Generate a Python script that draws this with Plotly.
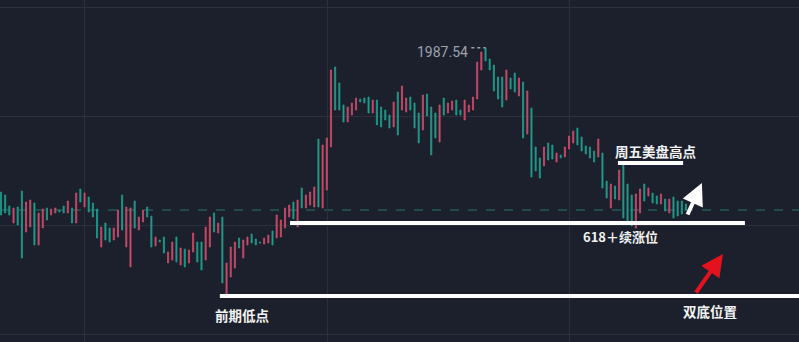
import plotly.graph_objects as go

# ---- data (hourly candles) ----
high = [
    1951.5, 1950.75, 1948.0, 1947.5, 1947.75, 1951.75, 1949.0, 1949.5, 1948.75, 1946.25,
    1947.25, 1947.5, 1947.25, 1947.5, 1947.0, 1948.0, 1949.25, 1947.5, 1951.25, 1952.25,
    1951.25, 1950.25, 1948.75, 1947.25, 1942.75, 1943.75, 1942.5, 1942.5, 1947.0, 1950.75,
    1947.75, 1947.5, 1949.25, 1945.25, 1947.0, 1947.75, 1945.5, 1940.25, 1939.5, 1940.25,
    1936.5, 1939.0, 1940.25, 1937.5, 1937.25, 1937.0, 1941.25, 1939.0, 1939.0, 1942.75,
    1945.25, 1946.25, 1943.75, 1945.25, 1933.75, 1937.75, 1939.0, 1940.0, 1939.5, 1940.25,
    1941.0, 1939.75, 1939.0, 1940.0, 1940.75, 1941.75, 1945.75, 1944.5, 1947.5, 1948.25,
    1949.0, 1949.5, 1952.5, 1950.75, 1951.5, 1952.75, 1964.75, 1963.25, 1965.0, 1982.0,
    1982.75, 1978.75, 1973.25, 1972.75, 1973.75, 1975.0, 1974.75, 1975.0, 1975.25, 1974.5,
    1974.5, 1972.75, 1972.0, 1970.75, 1974.0, 1976.5, 1978.0, 1975.0, 1975.25, 1973.75,
    1971.25, 1975.75, 1976.0, 1972.75, 1971.25, 1973.25, 1975.0, 1973.75, 1974.25, 1974.5,
    1972.0, 1974.5, 1973.25, 1975.25, 1984.0, 1986.5, 1987.54, 1984.75, 1983.25, 1980.25,
    1980.25, 1982.0, 1980.0, 1981.25, 1980.0, 1979.0, 1976.75, 1972.5, 1962.75, 1960.0,
    1962.75, 1963.75, 1963.25, 1961.25, 1960.75, 1962.75, 1965.5, 1966.75, 1967.5, 1965.25,
    1963.0, 1962.75, 1961.75, 1964.75, 1961.25, 1954.25, 1953.5, 1953.0, 1957.0, 1958.75,
    1953.5, 1950.75, 1951.0, 1952.25, 1953.5, 1952.5, 1951.25, 1950.5, 1951.0, 1949.75,
    1949.75, 1950.25, 1949.25, 1949.25, 1948.5,
]
low = [
    1945.75, 1946.25, 1945.75, 1943.75, 1943.25, 1935.0, 1941.5, 1942.75, 1938.25, 1938.25,
    1942.5, 1944.5, 1945.75, 1946.25, 1946.5, 1946.25, 1946.25, 1943.75, 1943.75, 1949.0,
    1947.75, 1946.5, 1945.25, 1940.0, 1937.75, 1939.5, 1939.0, 1939.5, 1940.25, 1942.0,
    1937.75, 1932.75, 1942.5, 1942.0, 1944.0, 1945.25, 1937.75, 1938.0, 1939.0, 1936.25,
    1933.75, 1934.5, 1934.0, 1933.25, 1932.75, 1933.75, 1936.5, 1934.0, 1932.0, 1934.5,
    1937.75, 1941.5, 1941.25, 1928.75, 1926.0, 1930.25, 1932.5, 1937.5, 1935.0, 1938.25,
    1938.75, 1938.25, 1938.75, 1938.5, 1938.75, 1938.25, 1940.0, 1940.25, 1942.5, 1945.25,
    1944.75, 1942.75, 1947.5, 1947.5, 1948.25, 1947.75, 1947.75, 1947.5, 1952.0, 1962.75,
    1972.0, 1972.0, 1969.0, 1969.0, 1970.75, 1972.0, 1974.0, 1973.75, 1971.25, 1971.25,
    1968.25, 1967.75, 1969.5, 1967.5, 1967.75, 1965.75, 1972.0, 1971.5, 1972.0, 1967.5,
    1963.75, 1967.0, 1970.5, 1960.75, 1965.0, 1964.0, 1970.75, 1971.25, 1972.0, 1970.75,
    1970.75, 1969.5, 1971.5, 1972.0, 1974.75, 1982.0, 1984.25, 1982.0, 1976.75, 1974.75,
    1972.75, 1974.5, 1977.25, 1976.5, 1975.5, 1965.0, 1966.0, 1955.25, 1956.75, 1955.0,
    1958.0, 1959.5, 1959.75, 1959.0, 1960.0, 1960.25, 1962.25, 1963.75, 1963.25, 1961.75,
    1961.0, 1960.0, 1959.0, 1960.25, 1952.5, 1950.0, 1947.5, 1949.75, 1949.5, 1945.0,
    1943.75, 1943.0, 1942.5, 1946.25, 1949.25, 1950.5, 1948.75, 1948.5, 1948.5, 1946.75,
    1946.25, 1945.0, 1945.5, 1946.0, 1947.0,
]
# u = rising candle (red), d = falling candle (teal)
direction = (
    "dddudduudu" "uduuddudud" "udddudduud" "uuduuddudd" "uududuuddu"
    "ududuuuduu" "ddduuduuuu" "duduuuduuu" "ddduuudddu" "dddduduudd"
    "duddduduud" "duuuuudddd" "duddududdd" "udduduuudd" "ddduddudud"
    "dduududdud" "udddd"
)

peak_label = "1987.54"
level_friday_high = 1958.75   # 周五美盘高点
level_618 = 1943.75           # 618+续涨位
level_double_bottom = 1925.5  # 双底位置

idx = list(range(len(high)))
open_ = [l if d == "u" else h for h, l, d in zip(high, low, direction)]
close = [h if d == "u" else l for h, l, d in zip(high, low, direction)]
last_price = close[-1]

RED = "#c94b6b"
TEAL = "#209c8b"
BG = "#1c202c"
GRID = "#2a303c"

fig = go.Figure(go.Candlestick(
    x=idx, open=open_, high=high, low=low, close=close,
    increasing=dict(line=dict(color=RED, width=0.8), fillcolor=RED),
    decreasing=dict(line=dict(color=TEAL, width=0.8), fillcolor=TEAL),
    whiskerwidth=0, hoverinfo="skip",
))

shapes = [
    dict(type="line", xref="paper", x0=0, x1=1, y0=last_price, y1=last_price,
         line=dict(color="#24756d", width=1, dash="dash"), layer="below"),
    dict(type="line", x0=69.2, x1=178.1, y0=level_618, y1=level_618,
         line=dict(color="white", width=4)),
    dict(type="line", x0=52.4, x1=191.5, y0=level_double_bottom, y1=level_double_bottom,
         line=dict(color="white", width=4)),
    dict(type="line", x0=147.7, x1=163.3, y0=level_friday_high, y1=level_friday_high,
         line=dict(color="white", width=4)),
    dict(type="line", x0=112.6, x1=116, y0=max(high), y1=max(high),
         line=dict(color="#9ea2ab", width=1.5, dash="dot")),
]

cjk = "Noto Sans CJK SC"
ann = [
    dict(x=112.4, y=max(high) - 1.0, text=peak_label, xanchor="right", yanchor="middle",
         showarrow=False, font=dict(family="Roboto", size=14, color="#9ea2ab")),
    dict(x=156.8, y=1961.75, text="<b>周五美盘高点</b>", showarrow=False,
         font=dict(family=cjk, size=13.5, color="#f2f2f2")),
    dict(x=148.2, y=1940.5, text="<b>618＋续涨位</b>", showarrow=False,
         font=dict(family=cjk, size=13, color="#f2f2f2")),
    dict(x=169.7, y=1921.75, text="<b>双底位置</b>", showarrow=False,
         font=dict(family=cjk, size=13.5, color="#f2f2f2")),
    dict(x=57.9, y=1920.75, text="<b>前期低点</b>", showarrow=False,
         font=dict(family=cjk, size=13.5, color="#f2f2f2")),
    dict(x=167.8, y=1953.75, ax=-15, ay=33, text="", showarrow=True,
         arrowhead=2, arrowsize=1.1, arrowwidth=4, arrowcolor="white"),
    dict(x=172.85, y=1936.0, ax=-28, ay=40, text="", showarrow=True,
         arrowhead=2, arrowsize=1.1, arrowwidth=4, arrowcolor="#e3121c"),
]

fig.update_layout(
    width=799, height=342, margin=dict(l=0, r=0, t=0, b=0),
    paper_bgcolor=BG, plot_bgcolor=BG, showlegend=False,
    boxgap=0.62,
    shapes=shapes, annotations=ann,
    xaxis=dict(range=[-0.24, 191.05], tickmode="array", tickvals=[19.87, 78.05, 136.2],
               showgrid=True, gridcolor=GRID, gridwidth=1, showticklabels=False,
               zeroline=False, rangeslider=dict(visible=False), fixedrange=True),
    yaxis=dict(range=[1914, 1999.5], tick0=1916, dtick=27.25, showgrid=True,
               gridcolor=GRID, gridwidth=1, showticklabels=False, zeroline=False,
               fixedrange=True),
)

fig.write_html("out.html")
